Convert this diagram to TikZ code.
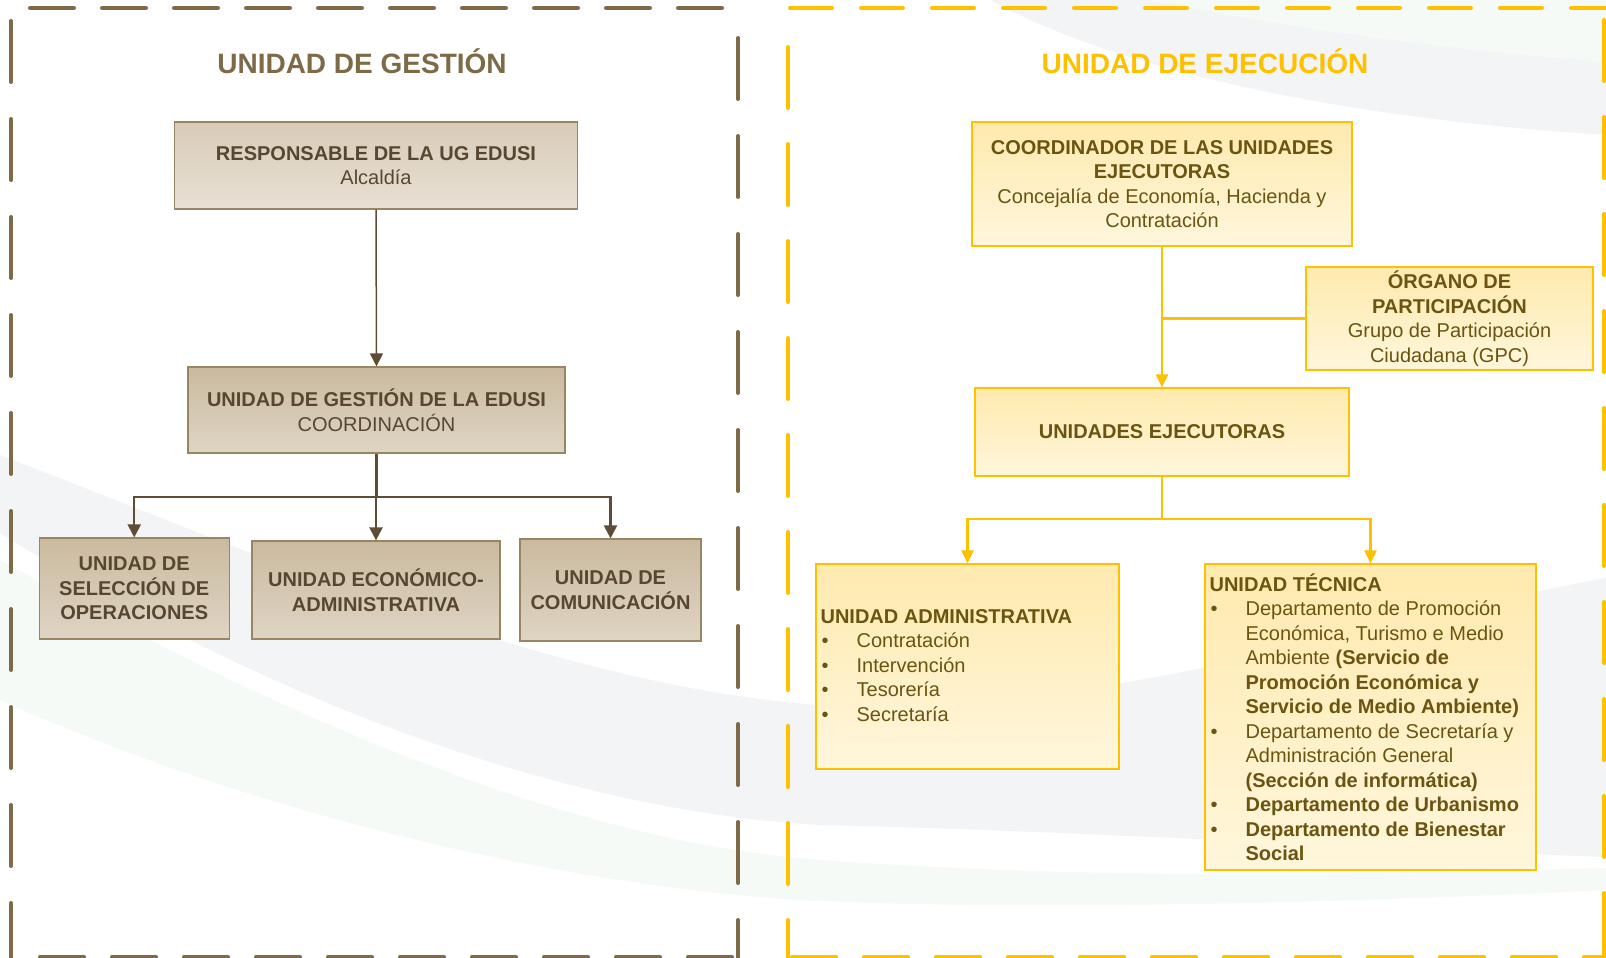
\documentclass[tikz,border=0pt]{standalone}
\usepackage{fontspec}
\setmainfont{Liberation Sans}
\usetikzlibrary{arrows.meta,calc}
\definecolor{gframe}{HTML}{7F6A47}
\definecolor{gtext}{HTML}{574731}
\definecolor{gborder}{HTML}{9A8563}
\definecolor{gline}{HTML}{5E4D34}
\definecolor{gtopA}{HTML}{D8CCB8}
\definecolor{gbotA}{HTML}{E8E0D3}
\definecolor{gtopB}{HTML}{CABA9F}
\definecolor{gbotB}{HTML}{DFD5C4}
\definecolor{yframe}{HTML}{FFC000}
\definecolor{ytext}{HTML}{6A5410}
\definecolor{ytop}{HTML}{FFEAAE}
\definecolor{ybot}{HTML}{FFF6DC}
\definecolor{swgray}{HTML}{F3F4F6}
\definecolor{swgreen}{HTML}{F6FAF6}
\newcommand\fsz{\fontsize{20}{24.5}\selectfont}
\newcommand\itembul{\makebox[36pt][l]{\hspace{1pt}•}}
\newcommand\itemind{\hspace*{36pt}}
\begin{document}
\begin{tikzpicture}[x=1pt,y=-1pt]
\tikzset{
  bdash/.style={draw=gframe, line width=4pt, line cap=round},
  ydash/.style={draw=yframe, line width=4pt, line cap=round},
  gboxA/.style={draw=gborder, line width=1.2pt, top color=gtopA, bottom color=gbotA, inner sep=0pt, align=center, text=gtext, font=\fsz},
  gboxB/.style={draw=gborder, line width=1.2pt, top color=gtopB, bottom color=gbotB, inner sep=0pt, align=center, text=gtext, font=\fsz\bfseries},
  ybox/.style={draw=yframe, line width=1.2pt, top color=ytop, bottom color=ybot, inner sep=0pt, align=center, text=ytext, font=\fsz},
  ylist/.style={inner sep=0pt, align=left, text=ytext, font=\fsz, anchor=west},
  gtitle/.style={font=\fontsize{28}{34}\selectfont\bfseries, anchor=base, inner sep=0pt},
  garrow/.style={draw=gline, line width=2.2pt, -{Triangle[length=13pt,width=13pt]}},
  yarrow/.style={draw=yframe, line width=2.2pt, -{Triangle[length=13pt,width=12pt]}},
}
\useasboundingbox (0,0) rectangle (1606,958);
\fill[white] (0,0) rectangle (1606,958);
% background swooshes
\fill[swgreen] (0,560) .. controls (250,700) and (550,840) .. (820,860) .. controls (1100,880) and (1350,875) .. (1606,868) -- (1606,890) .. controls (1300,905) and (1000,910) .. (800,900) .. controls (500,880) and (200,790) .. (0,700) -- cycle;
\fill[swgray] (0,455) .. controls (300,570) and (650,730) .. (950,705) .. controls (1200,685) and (1450,605) .. (1606,578) -- (1606,857) .. controls (1300,845) and (1050,830) .. (820,825) .. controls (550,810) and (250,690) .. (0,533) -- cycle;
\fill[swgreen] (1150,0) .. controls (1300,30) and (1450,50) .. (1606,62) -- (1606,0) -- cycle;
\fill[swgray] (990,0) .. controls (1100,60) and (1300,115) .. (1606,135) -- (1606,62) .. controls (1450,50) and (1300,30) .. (1150,0) -- cycle;
% frames
\draw[bdash, dash pattern=on 44pt off 28pt] (30,8) -- (740,8);
\draw[bdash, dash pattern=on 61pt off 37pt] (11,21) -- (11,962);
\draw[bdash, dash pattern=on 61pt off 37pt] (738,38) -- (738,962);
\draw[bdash, dash pattern=on 44pt off 28pt] (40,957) -- (745,957);
\draw[ydash, dash pattern=on 42pt off 29pt] (790,8) -- (1610,8);
\draw[ydash, dash pattern=on 61pt off 36pt] (788,47) -- (788,962);
\draw[ydash, dash pattern=on 44pt off 28pt] (792,957) -- (1610,957);
\draw[ydash, dash pattern=on 61pt off 36pt] (1604,20) -- (1604,962);
% titles
\node[gtitle, text=gframe] (tg) at (362,74) {UNIDAD DE GESTIÓN};
\node[gtitle, text=yframe] (te) at (1205,74) {UNIDAD DE EJECUCIÓN};
% left boxes
\node[gboxA, minimum width=403pt, minimum height=87pt] (resp) at (376,165.5) {\textbf{RESPONSABLE DE LA UG EDUSI}\\Alcaldía};
\node[gboxB, minimum width=377pt, minimum height=86pt, font=\fsz] (edusi) at (376.5,410) {\textbf{UNIDAD DE GESTIÓN DE LA EDUSI}\\COORDINACIÓN};
\node[gboxB, minimum width=190pt, minimum height=101pt] (sel) at (134.25,588.5) {UNIDAD DE\\SELECCIÓN DE\\OPERACIONES};
\node[gboxB, minimum width=248pt, minimum height=98pt] (eco) at (376,590) {UNIDAD ECONÓMICO-\\ADMINISTRATIVA};
\node[gboxB, minimum width=181pt, minimum height=102pt] (com) at (610.5,590) {UNIDAD DE\\COMUNICACIÓN};
% left connectors
\draw[garrow, line width=1.5pt] (resp.south) -- (edusi.north);
\coordinate (gj) at (376.5,497);
\draw[draw=gline, line width=2.2pt] (edusi.south) -- (gj);
\draw[garrow] (gj) -| (sel.north);
\draw[garrow] (gj) -- (gj -| eco.north) -- (eco.north);
\draw[garrow] (gj) -| (com.north);
% right boxes
\node[ybox, minimum width=380pt, minimum height=124pt] (coord) at (1162,184) {\textbf{COORDINADOR DE LAS UNIDADES}\\\textbf{EJECUTORAS}\\Concejalía de Economía, Hacienda y\\Contratación};
\node[ybox, minimum width=287pt, minimum height=103pt] (org) at (1449.5,318.5) {\textbf{ÓRGANO DE}\\\textbf{PARTICIPACIÓN}\\Grupo de Participación\\Ciudadana (GPC)};
\node[ybox, minimum width=374pt, minimum height=88pt] (ue) at (1162,432) {\textbf{UNIDADES EJECUTORAS}};
\node[ybox, minimum width=303pt, minimum height=205pt] (adm) at (967.5,666.5) {};
\node[ybox, minimum width=331pt, minimum height=306pt] (tec) at (1370.5,717) {};
\node[ylist] (admtxt) at ($(adm.west)+(5,-1)$) {\textbf{UNIDAD ADMINISTRATIVA}\\\itembul Contratación\\\itembul Intervención\\\itembul Tesorería\\\itembul Secretaría};
\node[ylist] (tectxt) at ($(tec.west)+(5,0)$) {\textbf{UNIDAD TÉCNICA}\\
\itembul Departamento de Promoción\\
\itemind Económica, Turismo e Medio\\
\itemind Ambiente \textbf{(Servicio de}\\
\itemind\textbf{Promoción Económica y}\\
\itemind\textbf{Servicio de Medio Ambiente)}\\
\itembul Departamento de Secretaría y\\
\itemind Administración General\\
\itemind\textbf{(Sección de informática)}\\
\itembul\textbf{Departamento de Urbanismo}\\
\itembul\textbf{Departamento de Bienestar}\\
\itemind\textbf{Social}};
% right connectors
\draw[yarrow] (coord.south) -- (ue.north);
\draw[draw=yframe, line width=2.2pt] (org.west) -- (org.west -| coord.south);
\coordinate (yj) at (1162,519);
\draw[draw=yframe, line width=2.2pt] (ue.south) -- (yj);
\draw[yarrow] (yj) -| (adm.north);
\draw[yarrow] (yj) -| (tec.north);
\end{tikzpicture}
\end{document}
